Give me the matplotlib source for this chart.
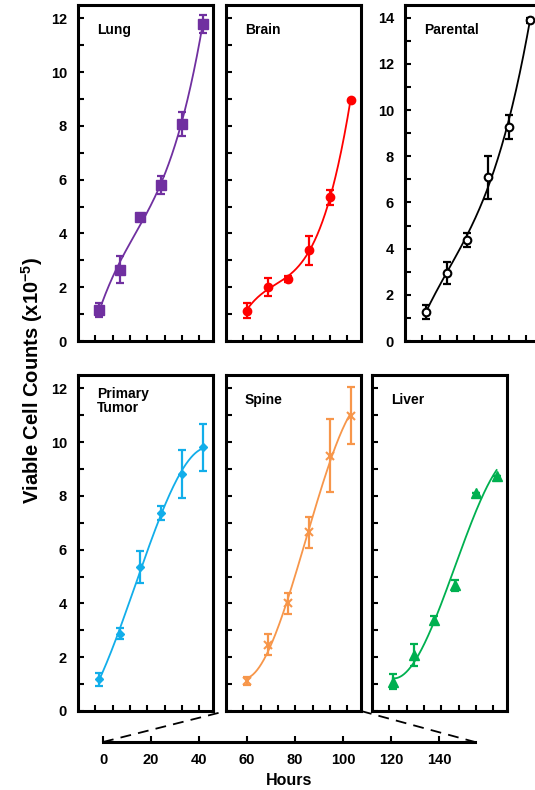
import numpy as np
import matplotlib
matplotlib.use("Agg")
import matplotlib.pyplot as plt
from matplotlib.lines import Line2D
from matplotlib.ticker import MultipleLocator, NullFormatter

plt.rcParams['font.family'] = ['Liberation Sans', 'DejaVu Sans']
plt.rcParams['font.weight'] = 'bold'
plt.rcParams['mathtext.fontset'] = 'custom'
plt.rcParams['mathtext.rm'] = 'Liberation Sans:bold'
plt.rcParams['mathtext.bf'] = 'Liberation Sans:bold'

# time points (hours) and viable cell counts (x10^-5) per site
hours = [24, 48, 72, 96, 120, 144]

lung = [1.15, 2.65, 4.62, 5.80, 8.08, 11.80]
lung_err = [0.27, 0.50, 0.06, 0.33, 0.44, 0.34]

brain = [1.13, 2.02, 2.30, 3.37, 5.34, 8.97]
brain_err = [0.27, 0.34, 0.10, 0.53, 0.28, 0.0]

parental = [1.26, 2.96, 4.38, 7.09, 9.26, 13.88]
parental_err = [0.31, 0.48, 0.30, 0.94, 0.53, 0.10]

primary = [1.18, 2.87, 5.35, 7.37, 8.82, 9.81]
primary_err = [0.24, 0.20, 0.60, 0.26, 0.88, 0.87]

spine = [1.13, 2.46, 4.01, 6.65, 9.50, 10.99]
spine_err = [0.15, 0.39, 0.39, 0.58, 1.37, 1.05]

liver = [1.09, 2.09, 3.39, 4.67, 8.11, 8.76]
liver_err = [0.28, 0.42, 0.14, 0.19, 0.0, 0.0]

hour_ticks = [0, 20, 40, 60, 80, 100, 120, 140]

W, H = 535, 790
fig = plt.figure(figsize=(W / 100, H / 100), dpi=100)

pw, ph = 135, 336

def add_panel(left, top):
    return fig.add_axes([left / W, 1 - (top + ph) / H, pw / W, ph / H])

panels = [
    # name, data, err, color, marker, filled, ymax, show labels, axes
    ("Lung", lung, lung_err, "#7030A0", "s", True, 12.5, True, add_panel(78, 5)),
    ("Brain", brain, brain_err, "#FF0000", "o", True, 12.5, False, add_panel(226, 5)),
    ("Parental", parental, parental_err, "black", "o", False, 14.55, True, add_panel(405, 5)),
    ("Primary\nTumor", primary, primary_err, "#12AEEA", "D", True, 12.5, True, add_panel(78, 375)),
    ("Spine", spine, spine_err, "#F7964A", "x", True, 12.5, False, add_panel(226, 375)),
    ("Liver", liver, liver_err, "#00B050", "^", True, 12.5, False, add_panel(372, 375)),
]

msizes = {"s": 7, "o": 5.5, "D": 4.5, "x": 6, "^": 7}

for name, y, err, color, marker, filled, ymax, labels, ax in panels:
    x = np.array(hours, dtype=float)
    y = np.array(y)
    # third-order polynomial trendline
    coef = np.polyfit(x, y, 3)
    xs = np.linspace(x[0], x[-1], 200)
    ax.plot(xs, np.polyval(coef, xs), color=color, lw=1.3, zorder=2)
    ax.errorbar(x, y, yerr=err, fmt="none", ecolor=color, elinewidth=1.6,
                capsize=3, capthick=1.6, zorder=3)
    ax.plot(x, y, linestyle="none", marker=marker, ms=msizes[marker],
            color=color, mfc=color if filled else "white", mec=color,
            mew=1.5 if marker in ("x", "o") else 1, zorder=4)

    ax.set_xlim(0, 156)
    ax.set_ylim(0, ymax)
    ax.set_xticks(hour_ticks[1:])
    ax.xaxis.set_major_formatter(NullFormatter())
    ax.yaxis.set_major_locator(MultipleLocator(2))
    ax.yaxis.set_minor_locator(MultipleLocator(1))
    ax.tick_params(which="both", direction="in", length=4, width=1.5,
                   top=False, right=False)
    ax.tick_params(axis="y", labelsize=10.5, pad=8)
    if not labels:
        ax.yaxis.set_major_formatter(NullFormatter())
    for s in ax.spines.values():
        s.set_linewidth(2.2)
    ty = 0.965 if "\n" in name else 0.945
    ax.text(0.14, ty, name, transform=ax.transAxes, ha="left", va="top",
            fontsize=10, fontweight="bold", linespacing=1.0)

# expanded hours axis underneath
hax = fig.add_axes([103 / W, 1 - 742 / H, 372 / W, 0.001])
hax.set_xlim(0, 155)
hax.set_xticks(hour_ticks)
hax.set_yticks([])
for side in ("left", "right", "top"):
    hax.spines[side].set_visible(False)
hax.spines["bottom"].set_linewidth(2.2)
hax.tick_params(axis="x", direction="in", length=4, width=1.5,
                labelsize=10.5, pad=8)
hax.set_xlabel("Hours", fontsize=11.5, fontweight="bold", labelpad=4)

# dashed zoom lines from the spine panel to the hours axis
spine_ax = panels[4][-1]
sp = spine_ax.get_position()
hp = hax.get_position()
fig.add_artist(Line2D([hp.x0, sp.x0], [hp.y0, sp.y0], transform=fig.transFigure,
                      color="black", lw=1.3, ls=(0, (6, 4))))
fig.add_artist(Line2D([sp.x1, hp.x1], [sp.y0, hp.y0], transform=fig.transFigure,
                      color="black", lw=1.3, ls=(0, (6, 4))))

fig.text(32 / W, 1 - 380 / H, r"Viable Cell Counts (x10$^{-5}$)",
         rotation=90, ha="center", va="center", fontsize=14.5, fontweight="bold")

fig.savefig("out.png", dpi=100)
